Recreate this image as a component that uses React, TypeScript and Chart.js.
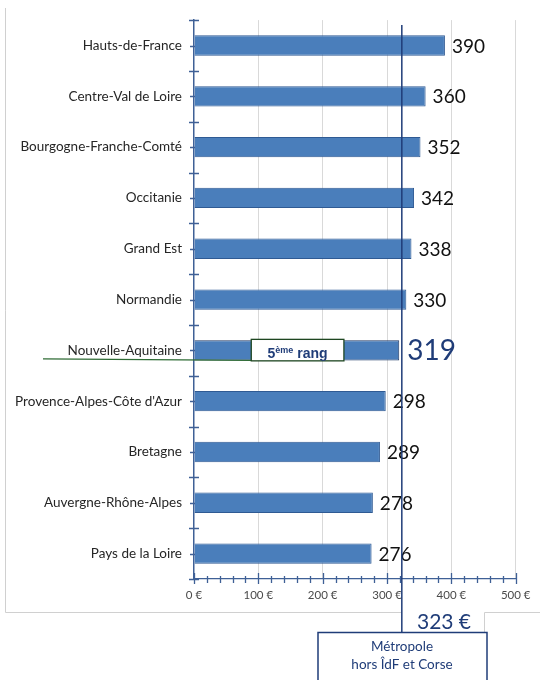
import React, { useEffect, useRef } from "react";
import { Chart, registerables } from "chart.js";

Chart.register(...registerables);

const regions = [
  "Hauts-de-France",
  "Centre-Val de Loire",
  "Bourgogne-Franche-Comté",
  "Occitanie",
  "Grand Est",
  "Normandie",
  "Nouvelle-Aquitaine",
  "Provence-Alpes-Côte d'Azur",
  "Bretagne",
  "Auvergne-Rhône-Alpes",
  "Pays de la Loire",
];
const values = [390, 360, 352, 342, 338, 330, 319, 298, 289, 278, 276];
const xTickValues = [0, 100, 200, 300, 400, 500];
const xTickSuffix = " €";
const referenceValue = 323;
const referenceLabel = "323 €";
const referenceCaption = ["Métropole", "hors ÎdF et Corse"];
const highlightIndex = 6;
const highlightRank = "5";
const highlightSup = "ème";
const highlightWord = " rang";

const NAVY = "#1f3c78";
const AXIS = "#3f6096";
const BAR = "#4a7ebb";
const BAR_BORDER = "#2f5a93";
const FONT = "Lato, 'DejaVu Sans', sans-serif";

const annotPlugin = {
  id: "annot",
  beforeDraw(chart: any) {
    const ctx = chart.ctx;
    ctx.save();
    ctx.fillStyle = "#ffffff";
    ctx.fillRect(0, 0, chart.width, chart.height);
    ctx.restore();
  },
  afterDraw(chart: any) {
    const ctx = chart.ctx as CanvasRenderingContext2D;
    const xs = chart.scales.x;
    const ys = chart.scales.y;
    const area = chart.chartArea;
    const meta = chart.getDatasetMeta(0);
    const refX = xs.getPixelForValue(referenceValue);

    ctx.save();
    // outer frame (light gray)
    ctx.strokeStyle = "#d0d0d0";
    ctx.lineWidth = 1;
    ctx.beginPath();
    ctx.moveTo(5.5, 8);
    ctx.lineTo(5.5, 612.5);
    ctx.lineTo(refX, 612.5);
    ctx.moveTo(540, 612.5);
    ctx.lineTo(484.5, 612.5);
    ctx.lineTo(484.5, 632);
    ctx.stroke();

    // x axis ticks (major every 100, minor every 20)
    ctx.strokeStyle = AXIS;
    ctx.lineWidth = 1.3;
    const yb = area.bottom;
    ctx.beginPath();
    for (let v = 0; v <= 500; v += 20) {
      const px = Math.round(xs.getPixelForValue(v)) + 0.5;
      const major = v % 100 === 0;
      ctx.moveTo(px, yb - (major ? 6 : 3));
      ctx.lineTo(px, yb + (major ? 5 : 4));
    }
    ctx.stroke();

    // y axis ticks
    const ax = area.left;
    ctx.beginPath();
    const n = regions.length;
    const step = (area.bottom - area.top) / n;
    for (let i = 0; i <= n; i++) {
      const py = Math.round(area.top + step * i) + 0.5;
      ctx.moveTo(ax - 5, py);
      ctx.lineTo(ax + 5, py);
    }
    for (let i = 0; i < n; i++) {
      const py = Math.round(ys.getPixelForValue(i)) + 0.5;
      ctx.moveTo(ax - 4, py);
      ctx.lineTo(ax + 1, py);
    }
    ctx.stroke();

    // green connector line
    const hb = meta.data[highlightIndex];
    const boxL = xs.getPixelForValue(89);
    const boxR = xs.getPixelForValue(233);
    const boxT = hb.y - 11;
    const boxB = hb.y + 10.5;
    ctx.strokeStyle = "#2e6b34";
    ctx.lineWidth = 1.2;
    ctx.beginPath();
    ctx.moveTo(43, boxB - 2);
    ctx.lineTo(boxL, boxB - 0.5);
    ctx.stroke();

    // highlight box
    ctx.fillStyle = "#ffffff";
    ctx.fillRect(boxL, boxT, boxR - boxL, boxB - boxT);
    ctx.strokeStyle = "#1e4620";
    ctx.lineWidth = 1.3;
    ctx.strokeRect(boxL, boxT, boxR - boxL, boxB - boxT);
    ctx.save();
    ctx.beginPath();
    ctx.rect(boxL, boxT, boxR - boxL, boxB - boxT);
    ctx.clip();
    ctx.fillStyle = NAVY;
    ctx.textBaseline = "alphabetic";
    ctx.textAlign = "left";
    ctx.font = "bold 14px 'Liberation Sans', Arial, sans-serif";
    const w1 = ctx.measureText(highlightRank).width;
    ctx.font = "bold 9px 'Liberation Sans', Arial, sans-serif";
    const w2 = ctx.measureText(highlightSup).width;
    ctx.font = "bold 14px 'Liberation Sans', Arial, sans-serif";
    const w3 = ctx.measureText(highlightWord).width;
    const total = w1 + w2 + w3;
    let tx = (boxL + boxR) / 2 - total / 2;
    const base = boxB - 2.5;
    ctx.fillText(highlightRank, tx, base);
    tx += w1;
    ctx.font = "bold 9px 'Liberation Sans', Arial, sans-serif";
    ctx.fillText(highlightSup, tx, base - 5);
    tx += w2;
    ctx.font = "bold 14px 'Liberation Sans', Arial, sans-serif";
    ctx.fillText(highlightWord, tx, base);
    ctx.restore();

    // value labels
    ctx.textAlign = "left";
    ctx.textBaseline = "middle";
    meta.data.forEach((el: any, i: number) => {
      if (i === highlightIndex) {
        ctx.font = `28px ${FONT}`;
        ctx.fillStyle = NAVY;
        ctx.fillText(String(values[i]), el.x + 8, el.y + 1);
      } else {
        ctx.font = `19px ${FONT}`;
        ctx.fillStyle = "#111111";
        ctx.fillText(String(values[i]), el.x + 7, el.y + 1);
      }
    });

    // reference line
    ctx.strokeStyle = NAVY;
    ctx.lineWidth = 1.5;
    ctx.beginPath();
    ctx.moveTo(refX, 25);
    ctx.lineTo(refX, 632);
    ctx.stroke();

    // reference value text
    ctx.fillStyle = NAVY;
    ctx.font = `21px ${FONT}`;
    ctx.textAlign = "center";
    ctx.textBaseline = "middle";
    ctx.fillText(referenceLabel, 444, 622);

    // caption box
    ctx.fillStyle = "#ffffff";
    ctx.fillRect(318, 632, 169, 60);
    ctx.strokeStyle = NAVY;
    ctx.lineWidth = 1.5;
    ctx.strokeRect(318, 632.5, 169, 60);
    ctx.fillStyle = NAVY;
    ctx.font = `13.5px ${FONT}`;
    ctx.fillText(referenceCaption[0], 402, 647);
    ctx.fillText(referenceCaption[1], 402, 665);

    ctx.restore();
  },
};

export default function App() {
  const ref = useRef<HTMLCanvasElement | null>(null);
  useEffect(() => {
    if (!ref.current) return;
    const chart = new Chart(ref.current, {
      type: "bar",
      data: {
        labels: regions,
        datasets: [
          {
            data: values,
            backgroundColor: BAR,
            borderColor: values.map((_, i) => (i === highlightIndex ? "#1f3864" : BAR_BORDER)),
            borderWidth: 1,
            barPercentage: 0.4,
            categoryPercentage: 1,
          },
        ],
      },
      options: {
        indexAxis: "y",
        responsive: false,
        animation: false,
        layout: { padding: { left: 0, right: 24.3, top: 17, bottom: 0 } },
        plugins: { legend: { display: false }, tooltip: { enabled: false } },
        scales: {
          x: {
            min: 0,
            max: 500,
            afterFit: (s: any) => {
              s.height = 101;
            },
            afterBuildTicks: (s: any) => {
              s.ticks = xTickValues.map((v) => ({ value: v }));
            },
            ticks: {
              padding: 9,
              color: "#4a4a4a",
              font: { family: FONT, size: 11.5 },
              callback: (v: any) => `${v}${xTickSuffix}`,
            },
            grid: {
              color: (c: any) => (c.tick && c.tick.value === 0 ? "rgba(0,0,0,0)" : "#d9d9d9"),
              drawTicks: false,
              lineWidth: 1,
            },
            border: { display: true, color: AXIS, width: 1.3 },
          },
          y: {
            afterFit: (s: any) => {
              s.width = 194;
            },
            ticks: {
              padding: 12,
              color: "#262626",
              font: { family: FONT, size: 13.5 },
              autoSkip: false,
            },
            grid: { display: false, drawTicks: false },
            border: { display: true, color: AXIS, width: 1.5 },
          },
        },
      },
      plugins: [annotPlugin],
    });
    return () => chart.destroy();
  }, []);
  return (
    <canvas
      ref={ref}
      width={540}
      height={680}
      style={{ position: "absolute", left: 0, top: 0, width: 540, height: 680 }}
    />
  );
}
